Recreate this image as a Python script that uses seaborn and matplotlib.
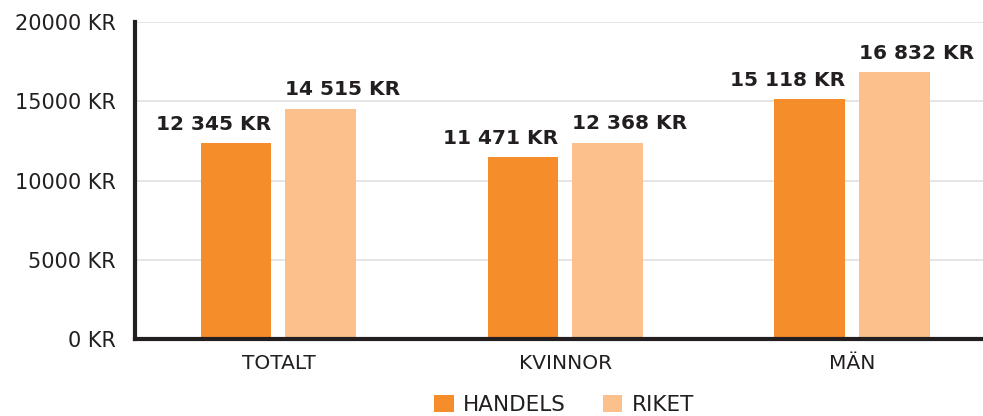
import matplotlib
matplotlib.use("Agg")
import matplotlib.pyplot as plt
import seaborn as sns
import pandas as pd
from matplotlib.patches import Patch

categories = ["TOTALT", "KVINNOR", "MÄN"]
series = ["HANDELS", "RIKET"]
handels = [12345, 11471, 15118]
riket = [14515, 12368, 16832]
yticks = [0, 5000, 10000, 15000, 20000]
ytick_labels = ["0 KR", "5000 KR", "10000 KR", "15000 KR", "20000 KR"]
colors = ["#F58D2B", "#FBC08C"]

df = pd.DataFrame({
    "cat": categories * 2,
    "series": [series[0]] * 3 + [series[1]] * 3,
    "value": handels + riket,
})

sns.set_theme(style="white")
plt.rcParams["font.family"] = ["DejaVu Sans"]
dark = "#231F20"

fig = plt.figure(figsize=(9.83, 4.16), dpi=100)
ax = fig.add_axes([0.1373, 0.185, 0.8627, 0.762])

sns.barplot(data=df, x="cat", y="value", hue="series", palette=colors,
            width=0.592, gap=0.165, ax=ax, legend=False, saturation=1, linewidth=0)

ax.set_ylim(0, 20000)
ax.set_xlim(-0.5, 2.455)
ax.set_yticks(yticks)
ax.set_yticklabels(ytick_labels)
ax.yaxis.grid(True, color="#E0E0DE", linewidth=1.2)
ax.set_axisbelow(True)
ax.set_xlabel("")
ax.set_ylabel("")

for s in ["top", "right"]:
    ax.spines[s].set_visible(False)
for s in ["left", "bottom"]:
    ax.spines[s].set_color(dark)
    ax.spines[s].set_linewidth(3)

ax.tick_params(axis="y", length=0, pad=14, labelsize=15, labelcolor=dark)
ax.tick_params(axis="x", which="major", length=0, pad=11, labelsize=14.5, labelcolor=dark)
ax.set_xticks([0.5, 1.5], minor=True)
ax.tick_params(axis="x", which="minor", direction="in", length=6, width=1, color=dark)

def fmt(v):
    return f"{v:,}".replace(",", " ") + " KR"

for i, container in enumerate(ax.containers):
    for b in container:
        h = b.get_height()
        if i == 0:
            x, ha = b.get_x() + b.get_width(), "right"
        else:
            x, ha = b.get_x(), "left"
        ax.annotate(fmt(int(round(h))), (x, h), xytext=(0, 7), textcoords="offset points",
                    ha=ha, va="bottom", fontsize=14.5, fontweight="bold", color=dark)

handles = [Patch(facecolor=c, edgecolor="none", label=l) for c, l in zip(colors, series)]
fig.legend(handles=handles, loc="center", bbox_to_anchor=(0.574, 0.027), ncol=2,
           frameon=False, fontsize=15.5, handlelength=0.9, handleheight=0.9,
           handletextpad=0.45, columnspacing=1.7, labelcolor=dark, borderpad=0)

fig.savefig("out.png", dpi=100)
